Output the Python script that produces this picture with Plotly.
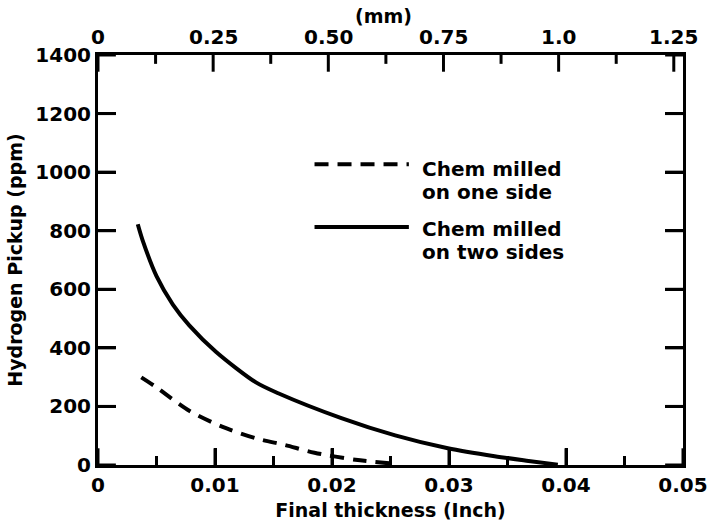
import plotly.graph_objects as go

# ---- data ----
thick_two_in = [0.0034, 0.0038, 0.0050, 0.0064, 0.0078, 0.0101, 0.0135, 0.0154,
                0.0208, 0.0254, 0.0299, 0.0339, 0.0368, 0.0393]
h_two_ppm = [822, 769, 645, 548, 477, 386, 282, 245, 160, 101, 57, 30, 14, 1]

thick_one_in = [0.0037, 0.0050, 0.0078, 0.0106, 0.0135, 0.0160, 0.0185, 0.0220, 0.0256]
h_one_ppm = [299, 265, 185, 131, 91, 68, 42, 18, 3]

x_ticks_in = [0, 0.01, 0.02, 0.03, 0.04, 0.05]
x_tick_text_in = ["0", "0.01", "0.02", "0.03", "0.04", "0.05"]
x_minor_ticks_in = [0.005, 0.015, 0.025, 0.035, 0.045]
mm_ticks = [0, 0.25, 0.50, 0.75, 1.0, 1.25]
mm_tick_text = ["0", "0.25", "0.50", "0.75", "1.0", "1.25"]
mm_minor_ticks = [0.125, 0.375, 0.625, 0.875, 1.125]
y_ticks = [0, 200, 400, 600, 800, 1000, 1200, 1400]

legend_labels = [("Chem milled", "on one side"), ("Chem milled", "on two sides")]

FONT = "DejaVu Sans"
BLACK = "#000000"
MM_PER_INCH = 25.4
X_RANGE = [0, 0.05]
Y_RANGE = [0, 1400]

fig = go.Figure()
fig.add_trace(go.Scatter(x=thick_one_in, y=h_one_ppm, mode="lines",
                         line=dict(color=BLACK, width=4, dash="14px,9px", shape="spline", smoothing=0.8),
                         showlegend=False, hoverinfo="skip"))
fig.add_trace(go.Scatter(x=thick_two_in, y=h_two_ppm, mode="lines",
                         line=dict(color=BLACK, width=4, shape="spline", smoothing=0.8),
                         showlegend=False, hoverinfo="skip"))

tickfont = dict(family=FONT, size=20, color=BLACK, weight="bold")
titlefont = dict(family=FONT, size=19, color=BLACK, weight="bold")

fig.update_layout(
    width=720, height=530,
    margin=dict(l=98, r=33, t=55, b=58),
    paper_bgcolor="white", plot_bgcolor="white",
    xaxis=dict(range=X_RANGE, tickmode="array", tickvals=x_ticks_in, ticktext=x_tick_text_in,
               ticks="inside", ticklen=17, tickwidth=3, tickcolor=BLACK,
               minor=dict(tickmode="linear", tick0=0, dtick=0.005, ticks="inside", ticklen=9,
                          tickwidth=3, tickcolor=BLACK, showgrid=False),
               showline=True, mirror=True, linewidth=3, linecolor=BLACK, showgrid=False,
               zeroline=False, layer="above traces", tickfont=tickfont,
               title=dict(text="Final thickness (Inch)", font=titlefont, standoff=8)),
    yaxis=dict(range=Y_RANGE, tickmode="array", tickvals=y_ticks, ticks="inside", ticklen=18,
               tickwidth=3, tickcolor=BLACK, mirror="ticks", showline=True, linewidth=3,
               linecolor=BLACK, showgrid=False, zeroline=False, tickfont=tickfont,
               title=dict(text="Hydrogen Pickup (ppm)", font=titlefont, standoff=8)),
)

# plot-area pixel helpers
L, R, T, B = 98, 687, 55, 472
W, H = R - L, B - T
def px(xp):
    return (xp - L) / W
def py(yp):
    return (B - yp) / H
def in_to_paper(v):
    return (v - X_RANGE[0]) / (X_RANGE[1] - X_RANGE[0])
def mm_to_paper(mm):
    return in_to_paper(mm / MM_PER_INCH)
def ppm_to_paper(v):
    return (v - Y_RANGE[0]) / (Y_RANGE[1] - Y_RANGE[0])

def vtick(xp, bottom, length):
    if bottom:
        y0, y1 = 0, length / H
    else:
        y0, y1 = 1, 1 - length / H
    fig.add_shape(type="line", xref="paper", yref="paper", x0=xp, x1=xp, y0=y0, y1=y1,
                  line=dict(color=BLACK, width=3))

def htick(yp, left, length):
    if left:
        x0, x1 = 0, length / W
    else:
        x0, x1 = 1, 1 - length / W
    fig.add_shape(type="line", xref="paper", yref="paper", x0=x0, x1=x1, y0=yp, y1=yp,
                  line=dict(color=BLACK, width=3))

# tick marks (inside) on all four sides
for v in x_ticks_in:
    vtick(in_to_paper(v), True, 17)
for v in x_minor_ticks_in:
    vtick(in_to_paper(v), True, 9)
for mm in mm_ticks:
    vtick(mm_to_paper(mm), False, 17)
for mm in mm_minor_ticks:
    vtick(mm_to_paper(mm), False, 9)
for v in y_ticks:
    htick(ppm_to_paper(v), True, 18)
    htick(ppm_to_paper(v), False, 18)

# secondary (mm) scale labels along the top edge
for mm, lab in zip(mm_ticks, mm_tick_text):
    fig.add_annotation(text=lab, xref="paper", yref="paper", x=mm_to_paper(mm), y=py(37),
                       xanchor="center", yanchor="middle", showarrow=False, font=tickfont)

# legend samples
fig.add_shape(type="line", xref="paper", yref="paper", x0=px(316), x1=px(411), y0=py(166), y1=py(166),
              line=dict(color=BLACK, width=4, dash="14px,9px"))
fig.add_shape(type="line", xref="paper", yref="paper", x0=px(316), x1=px(411), y0=py(230), y1=py(230),
              line=dict(color=BLACK, width=4))

text_rows = [(legend_labels[0][0], 171), (legend_labels[0][1], 194),
             (legend_labels[1][0], 232), (legend_labels[1][1], 255)]
for txt, ypix in text_rows:
    fig.add_annotation(text=txt, xref="paper", yref="paper", x=px(422), y=py(ypix),
                       xanchor="left", yanchor="middle", showarrow=False,
                       font=dict(family=FONT, size=20, color=BLACK, weight="bold"))

fig.add_annotation(text="(mm)", xref="paper", yref="paper", x=px(385), y=py(15),
                   xanchor="center", yanchor="middle", showarrow=False, font=titlefont)

fig.write_html("out.html")
